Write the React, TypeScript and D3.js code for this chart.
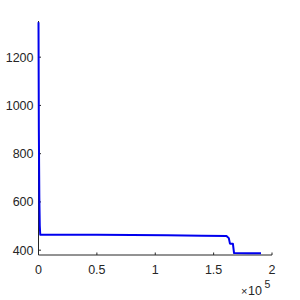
import React from "react";
import * as d3 from "d3";

const xValues = [0, 300, 700, 1100, 1500, 20000, 50000, 80000, 110000, 140000, 161000, 163000, 164000, 166500, 167500, 180000, 190600];
const yValues = [1345, 900, 620, 500, 464, 464, 463.5, 463, 461.5, 460, 459, 450, 427, 427, 388, 387.5, 387];
const xTicks = [0, 50000, 100000, 150000, 200000];
const xTickLabels = ["0", "0.5", "1", "1.5", "2"];
const yTicks = [400, 600, 800, 1000, 1200];
const yTickLabels = ["400", "600", "800", "1000", "1200"];

export default function App() {
  const W = 300, H = 300;
  const x = d3.scaleLinear().domain([0, 200000]).range([38.5, 272]);
  const y = d3.scaleLinear().domain([380, 1350]).range([255, 21]);
  const pts = xValues.map((v, i) => [v, yValues[i]] as [number, number]);
  const line = d3.line<[number, number]>().x(d => x(d[0])).y(d => y(d[1]));
  const font = "'Liberation Sans', Arial, Helvetica, sans-serif";
  const axisColor = "#262626";
  return (
    <svg width={W} height={H} style={{ position: "absolute", left: 0, top: 0, background: "#fff" }}>
      <rect x={0} y={0} width={W} height={H} fill="#fff" />
      <line x1={x(0)} x2={x(200000)} y1={255} y2={255} stroke={axisColor} strokeWidth={1} />
      <line x1={x(0)} x2={x(0)} y1={255} y2={21} stroke={axisColor} strokeWidth={1} />
      {xTicks.map((t, i) => (
        <g key={"x" + i}>
          <line x1={x(t)} x2={x(t)} y1={255} y2={252.5} stroke={axisColor} strokeWidth={1} />
          <text x={x(t)} y={274} textAnchor="middle" fontFamily={font} fontSize={12.5} fill={axisColor}>{xTickLabels[i]}</text>
        </g>
      ))}
      {yTicks.map((t, i) => (
        <g key={"y" + i}>
          <line x1={x(0)} x2={x(0) + 2.5} y1={y(t)} y2={y(t)} stroke={axisColor} strokeWidth={1} />
          <text x={33.5} y={y(t) + 4.5} textAnchor="end" fontFamily={font} fontSize={12.5} fill={axisColor}>{yTickLabels[i]}</text>
        </g>
      ))}
      <text x={241} y={295} fontFamily={font} fontSize={11} fill={axisColor}>×</text>
      <text x={248} y={295} fontFamily={font} fontSize={12.5} fill={axisColor}>10</text>
      <text x={264.5} y={288} fontFamily={font} fontSize={10.5} fill={axisColor}>5</text>
      <path d={line(pts) || ""} fill="none" stroke="#0000ee" strokeWidth={2} strokeLinejoin="round" />
    </svg>
  );
}
